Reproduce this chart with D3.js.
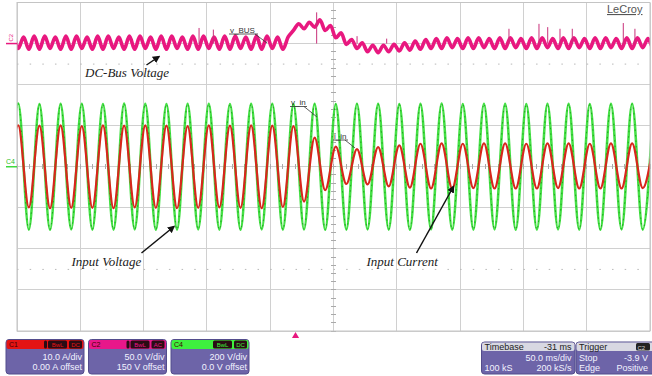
<!DOCTYPE html>
<meta charset="utf-8">
<style>
body { margin: 0; background: #fff; }
svg { display: block; font-family: "Liberation Sans", Arial, sans-serif; }
.grid line { stroke: #d0d0d0; stroke-width: 1; shape-rendering: crispEdges; }
.note { font-family: "Liberation Serif", serif; font-style: italic; font-size: 13px; fill: #222; }
.tag { font-size: 8px; fill: #333; }
.box text { font-size: 9px; fill: #f2f2ff; }
</style>
<script src="https://cdn.jsdelivr.net/npm/d3@7"></script>
<body>
<svg id="scope" width="652" height="376"></svg>
<script>
// one value per half line cycle (peak / trough), first one at t0
var t0 = -227.35;      // ms
var halfCycle = 8.36;  // ms between extremes

// C4: input voltage (V)
var vIn = [
  -305, 308, -306, 305, -307, 306, -305, 307, -306, 305,
  -306, 308, -305, 306, -307, 305, -306, 307, -305, 306,
  -306, 305, -307, 306, -305, 307, -306, 305, -305, 306,
  -307, 305, -306, 307, -305, 306, -306, 305, -307, 306,
  -305, 308, -306, 305, -306, 307, -305, 306, -307, 305,
  -306, 307, -305, 306, -306, 305, -307, 306, -305, 307,
  -306, 305
];

// C1: input current (A)
var iIn = [
  -10.0, 10.1, -9.9, 10.0, -10.1, 10.1, -10.0, 9.9, -10.0, 10.1,
  -10.1, 10.0, -9.9, 10.1, -10.0, 10.0, -10.1, 9.9, -10.0, 10.1,
  -9.9, 10.0, -10.0, 10.1, -10.1, 10.0, -9.8, 9.9, -8.5, 7.1,
  -5.7, 4.9, -4.2, 4.3, -4.3, 4.8, -4.8, 5.2, -5.1, 5.6,
  -5.3, 5.7, -5.3, 5.6, -5.2, 5.7, -5.3, 5.7, -5.3, 5.6,
  -5.3, 5.7, -5.2, 5.7, -5.3, 5.6, -5.3, 5.7, -5.3, 5.7,
  -5.2, 5.6
];

// C2: DC bus ripple (V, AC coupled). min at each line extreme, max a quarter cycle later
var busMin = [
  -7, -6, -7, -7, -6, -7, -7, -6, -7, -7,
  -6, -7, -7, -6, -7, -7, -6, -7, -7, -6,
  -7, -7, -6, -7, -7, -6, -7, 16, 18, 20,
  16, 7, -1, -6, -10, -11, -10, -9, -8, -7,
  -6, -6, -5, -6, -6, -5, -6, -6, -5, -6,
  -6, -5, -6, -6, -5, -6, -6, -5, -6, -6,
  -5, -6
];
var busMax = [
  9, 8, 9, 9, 8, 9, 9, 8, 9, 9,
  8, 9, 9, 8, 9, 9, 8, 9, 9, 8,
  9, 9, 8, 9, 9, 8, 8, 24, 26, 29,
  22, 13, 5, 1, -2, -2, -1, 1, 3, 5,
  6, 7, 6, 7, 7, 6, 7, 7, 6, 7,
  7, 6, 7, 7, 6, 7, 7, 6, 7, 7,
  6, 7
];

// glitches on the bus trace
var spikeT = [-76.2, -64.9, 16.7, 48.6, 72.0, 168.6, 192.3, 199.2, 208.9, 218.6, 258.9, 268.1];
var spikeV = [19, 17, 38, 9, 6, 18, 24, 20, 18, 18, 25, 18];

// readout boxes
var chanNames = ["C1", "C2", "C4"];
var chanScale = ["10.0 A/div", "50.0 V/div", "200 V/div"];
var chanOffset = ["0.00 A offset", "150 V offset", "0.0 V offset"];
var chanCoupling = ["DC", "AC", "DC"];
var chanColor = ["#e41414", "#e8178a", "#3ef03e"];

var svg = d3.select("#scope");

var x = d3.scaleLinear().domain([-220, 280]).range([17, 650]);   // 50 ms/div, trigger at 0
var div = d3.scaleLinear().domain([-4, 4]).range([331, 2.5]);
var yV = d3.scaleLinear().domain([-800, 800]).range([331, 2.5]);  // 200 V/div
var yI = d3.scaleLinear().domain([-40, 40]).range([331, 2.5]);    // 10 A/div
var yBus = d3.scaleLinear().domain([-350, 50]).range([331, 2.5]); // 50 V/div, 150 V offset

svg.append("defs").append("clipPath").attr("id", "screen")
  .append("rect").attr("x", 17).attr("y", 2.5).attr("width", 633).attr("height", 328.5);

var mk = svg.select("defs").append("marker")
  .attr("id", "arrow").attr("viewBox", "0 0 10 10").attr("refX", 8).attr("refY", 5)
  .attr("markerWidth", 5).attr("markerHeight", 5).attr("orient", "auto");
mk.append("path").attr("d", "M0,0L10,5L0,10z").attr("fill", "#111");

// grid
var grid = svg.append("g").attr("class", "grid");
grid.selectAll(".gv").data(d3.range(-220, 281, 50)).enter().append("line")
  .attr("x1", function(d) { return x(d); }).attr("x2", function(d) { return x(d); })
  .attr("y1", div(4)).attr("y2", div(-4));
grid.selectAll(".gh").data(d3.range(-4, 5)).enter().append("line")
  .attr("x1", x(-220)).attr("x2", x(280))
  .attr("y1", function(d) { return div(d); }).attr("y2", function(d) { return div(d); });

// center ticks
grid.selectAll(".tv").data(d3.range(-4, 4.01, 0.2)).enter().append("line")
  .attr("x1", x(30) - 2.5).attr("x2", x(30) + 2.5)
  .attr("y1", function(d) { return div(d); }).attr("y2", function(d) { return div(d); })
  .style("stroke", "#aaa");
grid.selectAll(".th").data(d3.range(-220, 281, 10)).enter().append("line")
  .attr("y1", div(0) - 2.5).attr("y2", div(0) + 2.5)
  .attr("x1", function(d) { return x(d); }).attr("x2", function(d) { return x(d); })
  .style("stroke", "#aaa");

// dotted rows
svg.selectAll(".dot").data([-2.5, 2.5]).enter().append("line")
  .attr("x1", x(-220)).attr("x2", x(280))
  .attr("y1", function(d) { return div(d); }).attr("y2", function(d) { return div(d); })
  .attr("stroke", "#b8b8b8").attr("stroke-dasharray", "1.5,11.16");

var traces = svg.append("g").attr("clip-path", "url(#screen)");

// C2 bus voltage
var busPts = [];
busMin.forEach(function(v, k) {
  busPts.push([t0 + k * halfCycle, v]);
  busPts.push([t0 + k * halfCycle + halfCycle / 2, busMax[k]]);
});
traces.append("path").datum(busPts)
  .attr("fill", "none").attr("stroke", "#e8187f").attr("stroke-width", 3.6)
  .attr("d", d3.line().x(function(d) { return x(d[0]); }).y(function(d) { return yBus(d[1]); })
    .curve(d3.curveMonotoneX));
traces.selectAll(".spike").data(spikeT).enter().append("line")
  .attr("x1", function(d) { return x(d); }).attr("x2", function(d) { return x(d); })
  .attr("y1", yBus(0)).attr("y2", function(d, i) { return yBus(spikeV[i]); })
  .attr("stroke", "#c8307a").attr("stroke-width", 1);

// C4 input voltage
var vPts = vIn.map(function(v, k) { return [t0 + k * halfCycle, v]; });
var lineV = d3.line().x(function(d) { return x(d[0]); }).y(function(d) { return yV(d[1]); })
  .curve(d3.curveMonotoneX);
traces.append("path").datum(vPts)
  .attr("fill", "none").attr("stroke", "#45e045").attr("stroke-width", 2.6).attr("d", lineV);
traces.append("path").datum(vPts)
  .attr("fill", "none").attr("stroke", "#20a820").attr("stroke-width", 1)
  .attr("stroke-dasharray", "1.5,4").attr("d", lineV);

// C1 input current
var iPts = iIn.map(function(v, k) { return [t0 + k * halfCycle, v]; });
traces.append("path").datum(iPts)
  .attr("fill", "none").attr("stroke", "#d8261c").attr("stroke-width", 2.2)
  .attr("d", d3.line().x(function(d) { return x(d[0]); }).y(function(d) { return yI(d[1]); })
    .curve(d3.curveMonotoneX));

// screen frame
svg.append("rect").attr("x", 17).attr("y", 2.5).attr("width", 633).attr("height", 328.5)
  .attr("fill", "none").attr("stroke", "#c4c4c4");

// channel markers
svg.append("text").attr("transform", "translate(13," + (yBus(0) - 2) + ") rotate(-90)")
  .attr("font-size", 6).attr("fill", "#e8187f").text("C2");
svg.append("line").attr("x1", 6).attr("x2", 17).attr("y1", yBus(0)).attr("y2", yBus(0))
  .attr("stroke", "#e8187f").attr("stroke-width", 1.5);
svg.append("text").attr("x", 6).attr("y", yV(0) - 3).attr("font-size", 7).attr("fill", "#2cc02c").text("C4");
svg.append("line").attr("x1", 6).attr("x2", 17).attr("y1", yV(0)).attr("y2", yV(0))
  .attr("stroke", "#3ed83e").attr("stroke-width", 1.5);

// trace tags
function tag(label, tx, ty, w, ex, ey) {
  svg.append("text").attr("class", "tag").attr("x", tx).attr("y", ty).text(label);
  svg.append("line").attr("x1", tx - 1).attr("x2", tx + w).attr("y1", ty + 1.5).attr("y2", ty + 1.5)
    .attr("stroke", "#333").attr("stroke-width", 0.8);
  svg.append("line").attr("x1", tx + w - 3).attr("y1", ty + 1.5).attr("x2", ex).attr("y2", ey)
    .attr("stroke", "#333").attr("stroke-width", 0.8);
}
tag("v_BUS", 230, 32.5, 28, 267, 43);
tag("v_in", 291, 105, 16, 317, 117);
tag("i_in", 334, 138.5, 14, 355, 148);

// notes
var notes = [
  { text: "DC-Bus Voltage", x: 85, y: 77, a: [146.5, 65, 159, 56.5] },
  { text: "Input Voltage", x: 71.5, y: 266, a: [141.5, 253, 174, 226.5] },
  { text: "Input Current", x: 366.5, y: 266, a: [416.5, 253, 453.5, 186.5] }
];
notes.forEach(function(n) {
  svg.append("text").attr("class", "note").attr("x", n.x).attr("y", n.y).text(n.text);
  svg.append("line").attr("x1", n.a[0]).attr("y1", n.a[1]).attr("x2", n.a[2]).attr("y2", n.a[3])
    .attr("stroke", "#111").attr("stroke-width", 1.5).attr("marker-end", "url(#arrow)");
});

// logo
svg.append("text").attr("x", 607).attr("y", 13).attr("font-size", 11).attr("fill", "#555")
  .style("text-decoration", "underline").text("LeCroy");

// trigger marker
svg.append("path").attr("d", d3.symbol(d3.symbolTriangle, 22)())
  .attr("transform", "translate(" + x(0) + ",336)").attr("fill", "#e8187f");

// channel readouts
var boxX = [6, 88.5, 171];
var boxes = svg.selectAll(".box").data(chanNames).enter().append("g")
  .attr("class", "box").attr("transform", function(d, i) { return "translate(" + boxX[i] + ",339.5)"; });
boxes.append("rect").attr("width", 78).attr("height", 34.5).attr("rx", 3)
  .attr("fill", "#6d64a8").attr("stroke", "#534c8c");
boxes.append("rect").attr("x", 0.5).attr("y", 0.5).attr("width", 77).attr("height", 9).attr("rx", 2)
  .attr("fill", function(d, i) { return chanColor[i]; });
boxes.append("text").attr("x", 3).attr("y", 7.5).style("font-size", "7px").style("fill", "#400")
  .text(function(d) { return d; });
boxes.each(function(d, i) {
  var g = d3.select(this);
  var badges = i < 2 ? [[38, 3, ""], [42, 19, "BwL"], [63, 13, chanCoupling[i]]]
                     : [[42, 19, "BwL"], [63, 13, chanCoupling[i]]];
  badges.forEach(function(b) {
    g.append("rect").attr("x", b[0]).attr("y", 1).attr("width", b[1]).attr("height", 8).attr("rx", 1.5)
      .attr("fill", "#2a0c14");
    g.append("text").attr("x", b[0] + b[1] / 2).attr("y", 7.5).attr("text-anchor", "middle")
      .style("font-size", "6px").style("fill", chanColor[i]).text(b[2]);
  });
});
boxes.append("text").attr("x", 76).attr("y", 20.5).attr("text-anchor", "end")
  .text(function(d, i) { return chanScale[i]; });
boxes.append("text").attr("x", 76).attr("y", 30.5).attr("text-anchor", "end")
  .text(function(d, i) { return chanOffset[i]; });

// timebase and trigger
var tb = svg.append("g").attr("class", "box").attr("transform", "translate(481.5,342)");
tb.append("rect").attr("width", 93.5).attr("height", 32).attr("rx", 3).attr("fill", "#6d64a8").attr("stroke", "#534c8c");
tb.append("rect").attr("x", 0.5).attr("y", 0.5).attr("width", 92.5).attr("height", 8.5).attr("rx", 2).attr("fill", "#d8d8e2");
tb.append("text").attr("x", 3).attr("y", 7.5).style("fill", "#222").text("Timebase");
tb.append("text").attr("x", 90).attr("y", 7.5).attr("text-anchor", "end").style("fill", "#222").text("-31 ms");
tb.append("text").attr("x", 90).attr("y", 18.5).attr("text-anchor", "end").text("50.0 ms/div");
tb.append("text").attr("x", 3).attr("y", 28.5).text("100 kS");
tb.append("text").attr("x", 90).attr("y", 28.5).attr("text-anchor", "end").text("200 kS/s");

var tr = svg.append("g").attr("class", "box").attr("transform", "translate(576,342)");
tr.append("rect").attr("width", 80).attr("height", 32).attr("rx", 3).attr("fill", "#6d64a8").attr("stroke", "#534c8c");
tr.append("rect").attr("x", 0.5).attr("y", 0.5).attr("width", 79).attr("height", 8.5).attr("rx", 2).attr("fill", "#d8d8e2");
tr.append("text").attr("x", 3).attr("y", 7.5).style("fill", "#222").text("Trigger");
tr.append("rect").attr("x", 60).attr("y", 1).attr("width", 14).attr("height", 7.5).attr("rx", 1.5).attr("fill", "#222");
tr.append("text").attr("x", 61.5).attr("y", 7.5).style("font-size", "6px").style("fill", "#ddd").text("C2");
tr.append("text").attr("x", 3).attr("y", 18.5).text("Stop");
tr.append("text").attr("x", 72).attr("y", 18.5).attr("text-anchor", "end").text("-3.9 V");
tr.append("text").attr("x", 3).attr("y", 28.5).text("Edge");
tr.append("text").attr("x", 72).attr("y", 28.5).attr("text-anchor", "end").text("Positive");
</script>
